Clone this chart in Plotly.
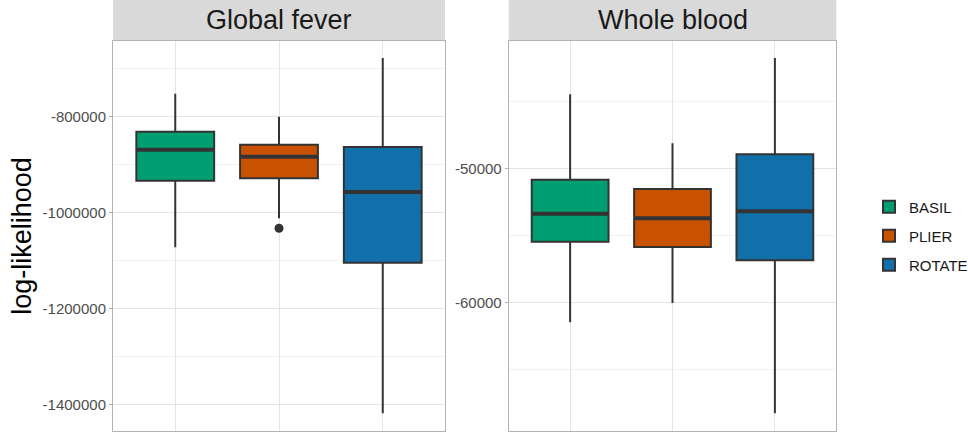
import plotly.graph_objects as go

methods = ["BASIL", "PLIER", "ROTATE"]
colors = ["#009E73", "#C85200", "#1170AA"]
panels = ["Global fever", "Whole blood"]

# Global fever
gf_low = [-1072600, -1012300, -1417900]
gf_q1 = [-934000, -929000, -1104700]
gf_med = [-869500, -884000, -957500]
gf_q3 = [-832000, -859100, -863900]
gf_high = [-753000, -801000, -678700]
gf_outliers = [[], [-1033000], []]

# Whole blood
wb_low = [-61493, -60052, -68284]
wb_q1 = [-55478, -55873, -56866]
wb_med = [-53388, -53731, -53209]
wb_q3 = [-50851, -51545, -48955]
wb_high = [-44478, -48134, -41769]
wb_outliers = [[], [], []]

gf_ticks = [-800000, -1000000, -1200000, -1400000]
wb_ticks = [-50000, -60000]

FONT = "Liberation Sans, Arial, sans-serif"
LINE = "#333333"
BOXW = 0.75

W, H = 968, 433
fig = go.Figure()

data = [
    (gf_low, gf_q1, gf_med, gf_q3, gf_high, gf_outliers, "x", "y"),
    (wb_low, wb_q1, wb_med, wb_q3, wb_high, wb_outliers, "x2", "y2"),
]

for p, (lo, q1, md, q3, hi, outl, xa, ya) in enumerate(data):
    for i, m in enumerate(methods):
        pos = i + 1
        fig.add_trace(go.Box(
            x=[pos], q1=[q1[i]], median=[md[i]], q3=[q3[i]],
            lowerfence=[lo[i]], upperfence=[hi[i]],
            width=BOXW, fillcolor=colors[i],
            line=dict(color=LINE, width=2),
            whiskerwidth=0, boxpoints=False,
            name=m, legendgroup=m, showlegend=(p == 1),
            xaxis=xa, yaxis=ya, hoverinfo="skip",
        ))
        # thicker median line like ggplot
        fig.add_trace(go.Scatter(
            x=[pos - BOXW / 2, pos + BOXW / 2], y=[md[i], md[i]],
            mode="lines", line=dict(color=LINE, width=4),
            showlegend=False, xaxis=xa, yaxis=ya, hoverinfo="skip",
        ))
        if outl[i]:
            fig.add_trace(go.Scatter(
                x=[pos] * len(outl[i]), y=outl[i], mode="markers",
                marker=dict(color=LINE, size=9),
                showlegend=False, xaxis=xa, yaxis=ya, hoverinfo="skip",
            ))

ydom = [(H - 431) / H, (H - 40.7) / H]
xd1 = [113 / W, 445 / W]
xd2 = [508.7 / W, 836.3 / W]

grid_major = "#E5E5E5"
grid_minor = "#F2F2F2"

common_x = dict(range=[0.4, 3.6], showticklabels=False, ticks="", showgrid=True,
                gridcolor=grid_major, gridwidth=1, zeroline=False,
                tickvals=[1, 2, 3], showline=True, linecolor="#B3B3B3",
                linewidth=1, mirror=True, fixedrange=True)

fig.update_layout(
    width=W, height=H,
    margin=dict(l=0, r=0, t=0, b=0, autoexpand=False),
    plot_bgcolor="white", paper_bgcolor="white",
    font=dict(family=FONT, color="#000000"),
    xaxis=dict(domain=xd1, anchor="y", **common_x),
    xaxis2=dict(domain=xd2, anchor="y2", **common_x),
    yaxis=dict(domain=ydom, anchor="x", range=[-1454700, -642700],
               tickvals=gf_ticks, ticktext=[str(v) for v in gf_ticks],
               tickfont=dict(size=15, color="#4D4D4D", family=FONT),
               ticks="outside", ticklen=3, tickcolor="#B3B3B3",
               showgrid=True, gridcolor=grid_major, zeroline=False,
               minor=dict(dtick=100000, showgrid=True, gridcolor=grid_minor),
               showline=True, linecolor="#B3B3B3", mirror=True, automargin=False),
    yaxis2=dict(domain=ydom, anchor="x2", range=[-69604, -40478],
                tickvals=wb_ticks, ticktext=[str(v) for v in wb_ticks],
                tickfont=dict(size=15, color="#4D4D4D", family=FONT),
                ticks="outside", ticklen=3, tickcolor="#B3B3B3",
                showgrid=True, gridcolor=grid_major, zeroline=False,
                minor=dict(dtick=5000, showgrid=True, gridcolor=grid_minor),
                showline=True, linecolor="#B3B3B3", mirror=True, automargin=False),
    legend=dict(x=869 / W, xanchor="left", y=1 - 236 / H, yanchor="middle",
                font=dict(size=15, family=FONT, color="#1A1A1A"),
                bgcolor="rgba(0,0,0,0)", tracegroupgap=6.5),
    showlegend=True,
)

# strips
for dom, title in zip([xd1, xd2], panels):
    fig.add_shape(type="rect", xref="paper", yref="paper",
                  x0=dom[0], x1=dom[1], y0=ydom[1], y1=1.0,
                  fillcolor="#D9D9D9", line=dict(width=0), layer="below")
    fig.add_annotation(text=title, xref="paper", yref="paper",
                       x=(dom[0] + dom[1]) / 2, y=(ydom[1] + 1.0) / 2,
                       xanchor="center", yanchor="middle", showarrow=False,
                       font=dict(size=27, family=FONT, color="#1A1A1A"))

fig.add_annotation(text="log-likelihood", xref="paper", yref="paper",
                   x=22 / W, y=(ydom[0] + ydom[1]) / 2, textangle=-90,
                   xanchor="center", yanchor="middle", showarrow=False,
                   font=dict(size=27, family=FONT, color="#000000"))

fig.write_html("out.html")
